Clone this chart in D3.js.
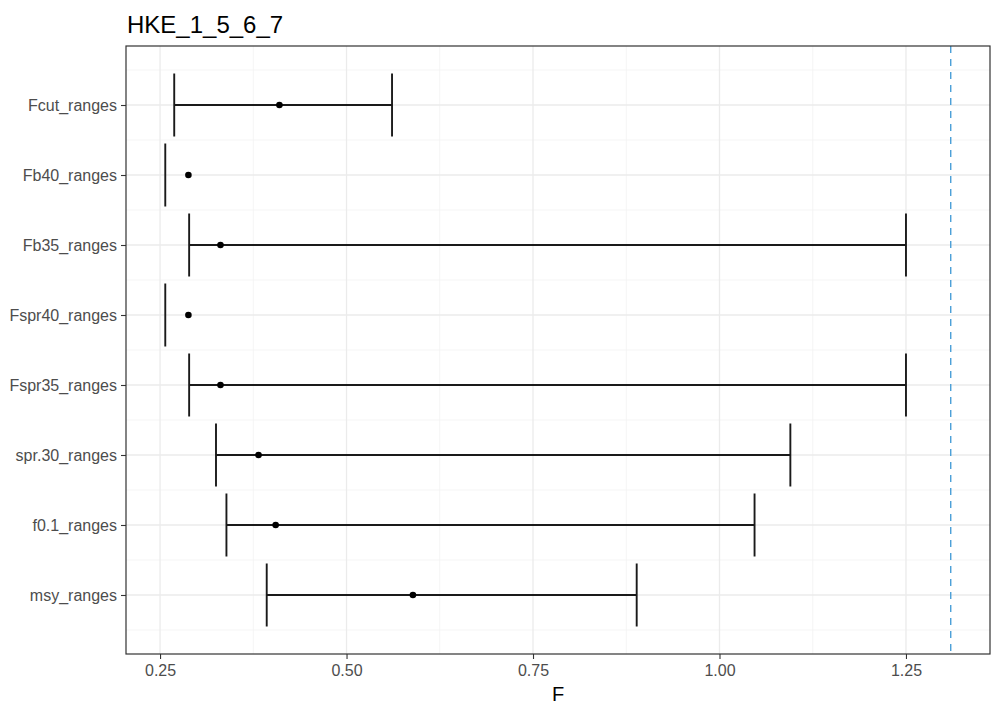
<!DOCTYPE html>
<html>
<head>
<meta charset="utf-8">
<script src="https://cdn.jsdelivr.net/npm/d3@7"></script>
<style>
  html, body { margin: 0; padding: 0; background: #fff; }
  svg { display: block; font-family: "Liberation Sans", Arial, sans-serif; }
</style>
</head>
<body>
<svg id="chart" width="995" height="704"></svg>
<script>
// Reference-point ranges per harvest control rule
const categories = ["Fcut_ranges", "Fb40_ranges", "Fb35_ranges", "Fspr40_ranges",
                    "Fspr35_ranges", "spr.30_ranges", "f0.1_ranges", "msy_ranges"];
const lowerF = [0.269, 0.257, 0.289, 0.257, 0.289, 0.325, 0.339, 0.393];
const pointF = [0.410, 0.288, 0.331, 0.288, 0.331, 0.382, 0.405, 0.589];
const upperF = [0.561, 0.257, 1.250, 0.257, 1.250, 1.095, 1.047, 0.889];
const refF = 1.31;
const xTicks = [0.25, 0.50, 0.75, 1.00, 1.25];
const xMinor = [0.375, 0.625, 0.875, 1.125];
const title = "HKE_1_5_6_7";
const xTitle = "F";

const rows = categories.map((c, i) => ({ cat: c, lo: lowerF[i], mid: pointF[i], hi: upperF[i] }));

const svg = d3.select("#chart");
const panel = { left: 126, right: 990, top: 46, bottom: 654 };

// x domain: data extent plus 5% on each side
const dMin = d3.min([...lowerF, ...pointF, refF]);
const dMax = d3.max([...upperF, ...pointF, refF]);
const pad = (dMax - dMin) * 0.05;
const x = d3.scaleLinear().domain([dMin - pad, dMax + pad]).range([panel.left, panel.right]);

const y = d3.scalePoint().domain(categories).range([panel.top, panel.bottom]).padding(0.843);
const step = y.step();

// panel background
svg.append("rect")
  .attr("x", panel.left).attr("y", panel.top)
  .attr("width", panel.right - panel.left).attr("height", panel.bottom - panel.top)
  .attr("fill", "#fff");

const grid = svg.append("g");
// minor grid lines
grid.selectAll("line.vminor").data(xMinor).join("line")
  .attr("x1", d => x(d)).attr("x2", d => x(d))
  .attr("y1", panel.top).attr("y2", panel.bottom)
  .attr("stroke", "#f2f2f2").attr("stroke-width", 0.8);
const yMinor = [];
categories.forEach((c, i) => { yMinor.push(y(c) - step / 2); });
yMinor.push(y(categories[categories.length - 1]) + step / 2);
grid.selectAll("line.hminor").data(yMinor).join("line")
  .attr("x1", panel.left).attr("x2", panel.right)
  .attr("y1", d => d).attr("y2", d => d)
  .attr("stroke", "#f2f2f2").attr("stroke-width", 0.8);
// major grid lines
grid.selectAll("line.vmajor").data(xTicks).join("line")
  .attr("x1", d => x(d)).attr("x2", d => x(d))
  .attr("y1", panel.top).attr("y2", panel.bottom)
  .attr("stroke", "#ebebeb").attr("stroke-width", 1.3);
grid.selectAll("line.hmajor").data(categories).join("line")
  .attr("x1", panel.left).attr("x2", panel.right)
  .attr("y1", d => y(d)).attr("y2", d => y(d))
  .attr("stroke", "#ebebeb").attr("stroke-width", 1.3);

// reference line
svg.append("line")
  .attr("x1", x(refF)).attr("x2", x(refF))
  .attr("y1", panel.top).attr("y2", panel.bottom)
  .attr("stroke", "#4a9fd8").attr("stroke-width", 1.4)
  .attr("stroke-dasharray", "7,6");

// error bars
const whisker = step * 0.9 / 2;
const bars = svg.append("g").attr("stroke", "#1a1a1a").attr("stroke-width", 1.9);
bars.selectAll("line.h").data(rows.filter(d => d.hi > d.lo)).join("line")
  .attr("x1", d => x(d.lo)).attr("x2", d => x(d.hi))
  .attr("y1", d => y(d.cat)).attr("y2", d => y(d.cat));
bars.selectAll("line.l").data(rows).join("line")
  .attr("x1", d => x(d.lo)).attr("x2", d => x(d.lo))
  .attr("y1", d => y(d.cat) - whisker).attr("y2", d => y(d.cat) + whisker);
bars.selectAll("line.u").data(rows.filter(d => d.hi > d.lo)).join("line")
  .attr("x1", d => x(d.hi)).attr("x2", d => x(d.hi))
  .attr("y1", d => y(d.cat) - whisker).attr("y2", d => y(d.cat) + whisker);

// point estimates
svg.append("g").selectAll("circle").data(rows).join("circle")
  .attr("cx", d => x(d.mid)).attr("cy", d => y(d.cat))
  .attr("r", 3.3).attr("fill", "#000");

// panel border
svg.append("rect")
  .attr("x", panel.left).attr("y", panel.top)
  .attr("width", panel.right - panel.left).attr("height", panel.bottom - panel.top)
  .attr("fill", "none").attr("stroke", "#333").attr("stroke-width", 1.2);

// axes
const xAxis = svg.append("g")
  .attr("transform", `translate(0,${panel.bottom})`)
  .call(d3.axisBottom(x).tickValues(xTicks).tickFormat(d3.format(".2f")).tickSize(5).tickPadding(6));
const yAxis = svg.append("g")
  .attr("transform", `translate(${panel.left},0)`)
  .call(d3.axisLeft(y).tickSize(5).tickPadding(4));
[xAxis, yAxis].forEach(a => {
  a.select(".domain").remove();
  a.selectAll(".tick line").attr("stroke", "#333").attr("stroke-width", 1.1);
  a.selectAll(".tick text").attr("fill", "#4d4d4d")
    .style("font-size", "16px").style("font-family", "'Liberation Sans', Arial, sans-serif");
});

// titles
svg.append("text")
  .attr("x", 127).attr("y", 33)
  .attr("fill", "#000").style("font-size", "24px")
  .text(title);
svg.append("text")
  .attr("x", (panel.left + panel.right) / 2).attr("y", 701)
  .attr("text-anchor", "middle").attr("fill", "#000").style("font-size", "20px")
  .text(xTitle);
</script>
</body>
</html>
